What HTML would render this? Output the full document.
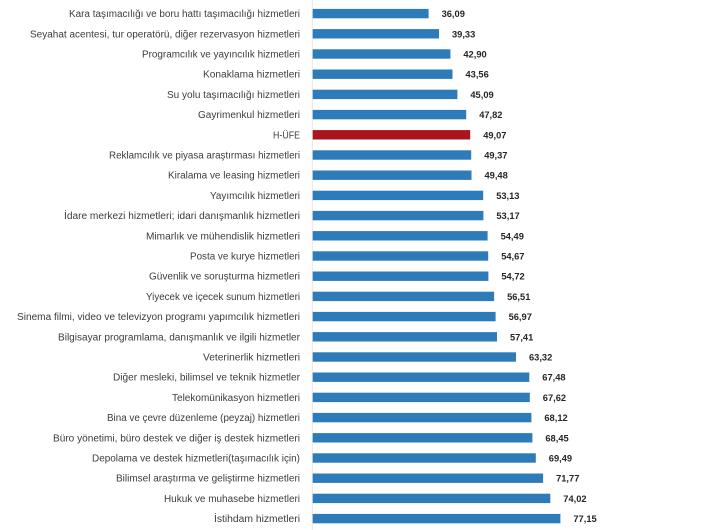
<!DOCTYPE html>
<html><head><meta charset="utf-8"><style>
html,body{margin:0;padding:0;background:#fff;}
svg{display:block;}
.l{font-family:"Liberation Sans","DejaVu Sans",sans-serif;font-size:10px;fill:#3c3c3c;}
.v{font-family:"Liberation Sans","DejaVu Sans",sans-serif;font-size:9.3px;font-weight:bold;fill:#262626;}
.b{fill:#2e7bba;}
</style></head><body>
<svg width="720" height="530" viewBox="0 0 720 530" xmlns="http://www.w3.org/2000/svg">
<rect width="720" height="530" fill="#fff"/>
<line x1="312.3" y1="0" x2="312.3" y2="530" stroke="#e6e6e6" stroke-width="1"/>

<rect class="b" x="312.7" y="8.9" width="115.9" height="9.4"/>
<text class="l" x="300" y="17.1" text-anchor="end" textLength="231" lengthAdjust="spacingAndGlyphs">Kara taşımacılığı ve boru hattı taşımacılığı hizmetleri</text>
<text class="v" x="441.6" y="17.1">36,09</text>

<rect class="b" x="312.7" y="29.1" width="126.3" height="9.4"/>
<text class="l" x="300" y="37.3" text-anchor="end" textLength="270" lengthAdjust="spacingAndGlyphs">Seyahat acentesi, tur operatörü, diğer rezervasyon hizmetleri</text>
<text class="v" x="452.0" y="37.3">39,33</text>

<rect class="b" x="312.7" y="49.3" width="137.7" height="9.4"/>
<text class="l" x="300" y="57.5" text-anchor="end" textLength="158" lengthAdjust="spacingAndGlyphs">Programcılık ve yayıncılık hizmetleri</text>
<text class="v" x="463.4" y="57.5">42,90</text>

<rect class="b" x="312.7" y="69.5" width="139.8" height="9.4"/>
<text class="l" x="300" y="77.7" text-anchor="end" textLength="97" lengthAdjust="spacingAndGlyphs">Konaklama hizmetleri</text>
<text class="v" x="465.5" y="77.7">43,56</text>

<rect class="b" x="312.7" y="89.7" width="144.7" height="9.4"/>
<text class="l" x="300" y="97.9" text-anchor="end" textLength="133" lengthAdjust="spacingAndGlyphs">Su yolu taşımacılığı hizmetleri</text>
<text class="v" x="470.4" y="97.9">45,09</text>

<rect class="b" x="312.7" y="109.9" width="153.5" height="9.4"/>
<text class="l" x="300" y="118.1" text-anchor="end" textLength="102" lengthAdjust="spacingAndGlyphs">Gayrimenkul hizmetleri</text>
<text class="v" x="479.2" y="118.1">47,82</text>

<rect x="312.7" y="130.1" width="157.5" height="9.4" fill="#a8151c"/>
<text class="l" x="300" y="138.3" text-anchor="end" textLength="27" lengthAdjust="spacingAndGlyphs">H-ÜFE</text>
<text class="v" x="483.2" y="138.3">49,07</text>

<rect class="b" x="312.7" y="150.3" width="158.5" height="9.4"/>
<text class="l" x="300" y="158.5" text-anchor="end" textLength="191" lengthAdjust="spacingAndGlyphs">Reklamcılık ve piyasa araştırması hizmetleri</text>
<text class="v" x="484.2" y="158.5">49,37</text>

<rect class="b" x="312.7" y="170.5" width="158.8" height="9.4"/>
<text class="l" x="300" y="178.7" text-anchor="end" textLength="132" lengthAdjust="spacingAndGlyphs">Kiralama ve leasing hizmetleri</text>
<text class="v" x="484.5" y="178.7">49,48</text>

<rect class="b" x="312.7" y="190.7" width="170.5" height="9.4"/>
<text class="l" x="300" y="198.9" text-anchor="end" textLength="90" lengthAdjust="spacingAndGlyphs">Yayımcılık hizmetleri</text>
<text class="v" x="496.2" y="198.9">53,13</text>

<rect class="b" x="312.7" y="210.9" width="170.7" height="9.4"/>
<text class="l" x="300" y="219.1" text-anchor="end" textLength="236" lengthAdjust="spacingAndGlyphs">İdare merkezi hizmetleri; idari danışmanlık hizmetleri</text>
<text class="v" x="496.4" y="219.1">53,17</text>

<rect class="b" x="312.7" y="231.1" width="174.9" height="9.4"/>
<text class="l" x="300" y="239.3" text-anchor="end" textLength="154" lengthAdjust="spacingAndGlyphs">Mimarlık ve mühendislik hizmetleri</text>
<text class="v" x="500.6" y="239.3">54,49</text>

<rect class="b" x="312.7" y="251.3" width="175.5" height="9.4"/>
<text class="l" x="300" y="259.5" text-anchor="end" textLength="110" lengthAdjust="spacingAndGlyphs">Posta ve kurye hizmetleri</text>
<text class="v" x="501.2" y="259.5">54,67</text>

<rect class="b" x="312.7" y="271.5" width="175.7" height="9.4"/>
<text class="l" x="300" y="279.7" text-anchor="end" textLength="151" lengthAdjust="spacingAndGlyphs">Güvenlik ve soruşturma hizmetleri</text>
<text class="v" x="501.4" y="279.7">54,72</text>

<rect class="b" x="312.7" y="291.7" width="181.4" height="9.4"/>
<text class="l" x="300" y="299.9" text-anchor="end" textLength="154" lengthAdjust="spacingAndGlyphs">Yiyecek ve içecek sunum hizmetleri</text>
<text class="v" x="507.1" y="299.9">56,51</text>

<rect class="b" x="312.7" y="311.9" width="182.9" height="9.4"/>
<text class="l" x="300" y="320.1" text-anchor="end" textLength="283" lengthAdjust="spacingAndGlyphs">Sinema filmi, video ve televizyon programı yapımcılık hizmetleri</text>
<text class="v" x="508.6" y="320.1">56,97</text>

<rect class="b" x="312.7" y="332.1" width="184.3" height="9.4"/>
<text class="l" x="300" y="340.3" text-anchor="end" textLength="242" lengthAdjust="spacingAndGlyphs">Bilgisayar programlama, danışmanlık ve ilgili hizmetler</text>
<text class="v" x="510.0" y="340.3">57,41</text>

<rect class="b" x="312.7" y="352.3" width="203.3" height="9.4"/>
<text class="l" x="300" y="360.5" text-anchor="end" textLength="97" lengthAdjust="spacingAndGlyphs">Veterinerlik hizmetleri</text>
<text class="v" x="529.0" y="360.5">63,32</text>

<rect class="b" x="312.7" y="372.5" width="216.6" height="9.4"/>
<text class="l" x="300" y="380.7" text-anchor="end" textLength="187" lengthAdjust="spacingAndGlyphs">Diğer mesleki, bilimsel ve teknik hizmetler</text>
<text class="v" x="542.3" y="380.7">67,48</text>

<rect class="b" x="312.7" y="392.7" width="217.1" height="9.4"/>
<text class="l" x="300" y="400.9" text-anchor="end" textLength="128" lengthAdjust="spacingAndGlyphs">Telekomünikasyon hizmetleri</text>
<text class="v" x="542.8" y="400.9">67,62</text>

<rect class="b" x="312.7" y="412.9" width="218.7" height="9.4"/>
<text class="l" x="300" y="421.1" text-anchor="end" textLength="193" lengthAdjust="spacingAndGlyphs">Bina ve çevre düzenleme (peyzaj) hizmetleri</text>
<text class="v" x="544.4" y="421.1">68,12</text>

<rect class="b" x="312.7" y="433.1" width="219.7" height="9.4"/>
<text class="l" x="300" y="441.3" text-anchor="end" textLength="247" lengthAdjust="spacingAndGlyphs">Büro yönetimi, büro destek ve diğer iş destek hizmetleri</text>
<text class="v" x="545.4" y="441.3">68,45</text>

<rect class="b" x="312.7" y="453.3" width="223.1" height="9.4"/>
<text class="l" x="300" y="461.5" text-anchor="end" textLength="208" lengthAdjust="spacingAndGlyphs">Depolama ve destek hizmetleri(taşımacılık için)</text>
<text class="v" x="548.8" y="461.5">69,49</text>

<rect class="b" x="312.7" y="473.5" width="230.4" height="9.4"/>
<text class="l" x="300" y="481.7" text-anchor="end" textLength="184" lengthAdjust="spacingAndGlyphs">Bilimsel araştırma ve geliştirme hizmetleri</text>
<text class="v" x="556.1" y="481.7">71,77</text>

<rect class="b" x="312.7" y="493.7" width="237.6" height="9.4"/>
<text class="l" x="300" y="501.9" text-anchor="end" textLength="136" lengthAdjust="spacingAndGlyphs">Hukuk ve muhasebe hizmetleri</text>
<text class="v" x="563.3" y="501.9">74,02</text>

<rect class="b" x="312.7" y="513.9" width="247.7" height="9.4"/>
<text class="l" x="300" y="522.1" text-anchor="end" textLength="86" lengthAdjust="spacingAndGlyphs">İstihdam hizmetleri</text>
<text class="v" x="573.4" y="522.1">77,15</text>
</svg>
</body></html>
